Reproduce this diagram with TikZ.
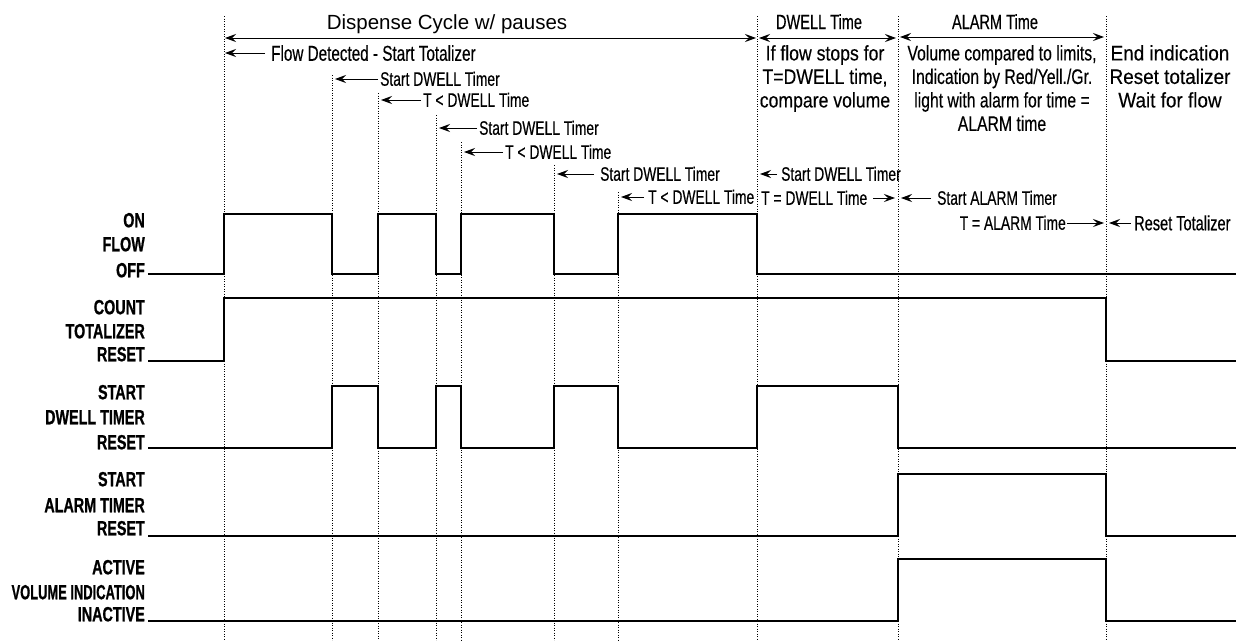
\documentclass[tikz,border=0pt]{standalone}
\usepackage{fontspec}
\setmainfont{Liberation Sans}
\newfontfamily\nfa[FakeStretch=0.71,FakeBold=0.4]{Liberation Sans}
\newfontfamily\nfb[FakeStretch=0.75,FakeBold=0.3]{Liberation Sans}
\newfontfamily\nfc[FakeStretch=0.84,FakeBold=0.3]{Liberation Sans}
\newfontfamily\nfd[FakeStretch=0.9,FakeBold=0.3]{Liberation Sans}
\newfontfamily\nflab[FakeStretch=0.7,FakeBold=0.8]{Liberation Sans Bold}
\usetikzlibrary{arrows.meta}
\tikzset{
  sig/.style={line width=1.7pt, line join=miter},
  vline/.style={line width=0.9pt, dash pattern=on 0.9pt off 1.6pt},
  tipst/.tip={Stealth[length=11pt,width=8pt,inset=4pt]},
  arr/.style={line width=0.8pt, -tipst},
  darr/.style={line width=0.8pt, tipst-tipst},
  lab/.style={anchor=east, inner sep=0pt, text height=14.5pt, text depth=0pt,
    font=\nflab\fontsize{20.5}{21}\selectfont},
  note/.style={anchor=west, inner sep=1pt, text height=13.5pt, text depth=0pt,
    font=\nfa\fontsize{19.5}{20}\selectfont},
  head/.style={anchor=center, inner sep=0pt, text height=14pt, text depth=0pt,
    font=\nfa\fontsize{20.5}{21}\selectfont},
  block/.style={anchor=north, inner sep=0pt, align=center}
}
\begin{document}
\begin{tikzpicture}[x=1pt,y=-1pt]
\useasboundingbox (0,0) rectangle (1237,640);
% dotted time markers
\coordinate (v0) at (224,0);
\coordinate (v1) at (332,0);
\coordinate (v2) at (378,0);
\coordinate (v3) at (436,0);
\coordinate (v4) at (461,0);
\coordinate (v5) at (554,0);
\coordinate (v6) at (618,0);
\coordinate (v7) at (757,0);
\coordinate (v8) at (898,0);
\coordinate (v9) at (1106,0);
\draw[vline] (224,16) -- (224,640);
\draw[vline] (332,75) -- (332,640);
\draw[vline] (378,93) -- (378,640);
\draw[vline] (436,115) -- (436,640);
\draw[vline] (461,142) -- (461,640);
\draw[vline] (554,165) -- (554,640);
\draw[vline] (618,192) -- (618,640);
\draw[vline] (757,16) -- (757,640);
\draw[vline] (898,16) -- (898,640);
\draw[vline] (1106,16) -- (1106,640);

% headers
\node[inner sep=0pt, text height=14.7pt, text depth=0pt, font=\fontsize{20.5}{22}\selectfont] (hdisp) at (447,22) {Dispense Cycle w/ pauses};
\node[head] (hdwell) at (819,22) {DWELL Time};
\node[head] (halarm) at (995,22) {ALARM Time};
\coordinate (da1) at (225,38);
\coordinate (da2) at (756,38);
\coordinate (db1) at (759,38);
\coordinate (db2) at (896,38);
\coordinate (dc1) at (900,37);
\coordinate (dc2) at (1104,37);
\draw[darr] (da1) -- (da2);
\draw[darr] (db1) -- (db2);
\draw[darr] (dc1) -- (dc2);

% blocks
\node[block, font=\nfc\fontsize{21}{23.5}\selectfont] (bdwell) at (825,45) {If flow stops for\\T=DWELL time,\\compare volume};
\node[block, font=\nfb\fontsize{21}{23.5}\selectfont] (balarm) at (1002,45) {Volume compared to limits,\\Indication by Red/Yell./Gr.\\light with alarm for time =\\ALARM time};
\node[block, font=\nfd\fontsize{21}{23.5}\selectfont] (bend) at (1170,45) {End indication\\Reset totalizer\\Wait for flow};

% annotations with arrows
\node[note, text height=15.5pt, font=\nfa\fontsize{21.5}{22}\selectfont] (n1) at (270,53) {Flow Detected - Start Totalizer};
\draw[arr, shorten <=5pt, shorten >=1pt] (n1.west) -- (n1.west -| v0);
\node[note] (n2) at (379,79) {Start DWELL Timer};
\draw[arr, shorten <=1pt, shorten >=3pt] (n2.west) -- (n2.west -| v1);
\node[note] (n3) at (422,100) {T < DWELL Time};
\draw[arr, shorten <=1pt, shorten >=3pt] (n3.west) -- (n3.west -| v2);
\node[note] (n4) at (478,128) {Start DWELL Timer};
\draw[arr, shorten <=1pt, shorten >=3pt] (n4.west) -- (n4.west -| v3);
\node[note] (n5) at (504,152) {T < DWELL Time};
\draw[arr, shorten <=1pt, shorten >=3pt] (n5.west) -- (n5.west -| v4);
\node[note] (n6) at (599,174) {Start DWELL Timer};
\draw[arr, shorten <=5pt, shorten >=3pt] (n6.west) -- (n6.west -| v5);
\node[note] (n7) at (647,197) {T < DWELL Time};
\draw[arr, shorten <=3pt, shorten >=3pt] (n7.west) -- (n7.west -| v6);
\node[note] (n8) at (780,174) {Start DWELL Timer};
\draw[arr, shorten <=3pt, shorten >=3pt] (n8.west) -- (n8.west -| v7);
\node[note] (n9) at (760,198) {T = DWELL Time};
\draw[arr, shorten <=5pt, shorten >=3pt] (n9.east) -- (n9.east -| v8);
\node[note] (n10) at (936,198) {Start ALARM Timer};
\draw[arr, shorten <=5pt, shorten >=3pt] (n10.west) -- (n10.west -| v8);
\node[note, anchor=east] (n11) at (1067,223) {T = ALARM Time};
\draw[arr, shorten <=0pt, shorten >=2pt] (n11.east) -- (n11.east -| v9);
\node[note, font=\nfa\fontsize{20.5}{21}\selectfont, text height=14.5pt] (n12) at (1133,223) {Reset Totalizer};
\draw[arr, shorten <=2pt, shorten >=3pt] (n12.west) -- (n12.west -| v9);

% left labels
\node[lab] (l1) at (145,220) {ON};
\node[lab] (l2) at (145,244) {FLOW};
\node[lab] (l3) at (145,270) {OFF};
\node[lab] (l4) at (145,307) {COUNT};
\node[lab] (l5) at (145,331) {TOTALIZER};
\node[lab] (l6) at (145,354) {RESET};
\node[lab] (l7) at (145,392) {START};
\node[lab] (l8) at (145,417) {DWELL TIMER};
\node[lab] (l9) at (145,442) {RESET};
\node[lab] (l10) at (145,479) {START};
\node[lab] (l11) at (145,505) {ALARM TIMER};
\node[lab] (l12) at (145,528) {RESET};
\node[lab] (l13) at (145,567) {ACTIVE};
\node[lab] (l14) at (145,592) {\scalebox{0.9}[1]{VOLUME INDICATION}};
\node[lab] (l15) at (145,614) {INACTIVE};

% waveforms
\draw[sig] (148,274) -- (224,274) -- (224,214) -- (332,214) -- (332,274) -- (378,274) -- (378,214) -- (436,214) -- (436,274) -- (461,274) -- (461,214) -- (554,214) -- (554,274) -- (618,274) -- (618,214) -- (757,214) -- (757,274) -- (1236,274);
\draw[sig] (148,361) -- (224,361) -- (224,298) -- (1106,298) -- (1106,361) -- (1236,361);
\draw[sig] (148,448) -- (332,448) -- (332,386) -- (378,386) -- (378,448) -- (436,448) -- (436,386) -- (461,386) -- (461,448) -- (554,448) -- (554,386) -- (618,386) -- (618,448) -- (757,448) -- (757,386) -- (898,386) -- (898,448) -- (1236,448);
\draw[sig] (148,536) -- (898,536) -- (898,474) -- (1106,474) -- (1106,536) -- (1236,536);
\draw[sig] (148,621) -- (898,621) -- (898,559) -- (1106,559) -- (1106,621) -- (1236,621);
\end{tikzpicture}
\end{document}
